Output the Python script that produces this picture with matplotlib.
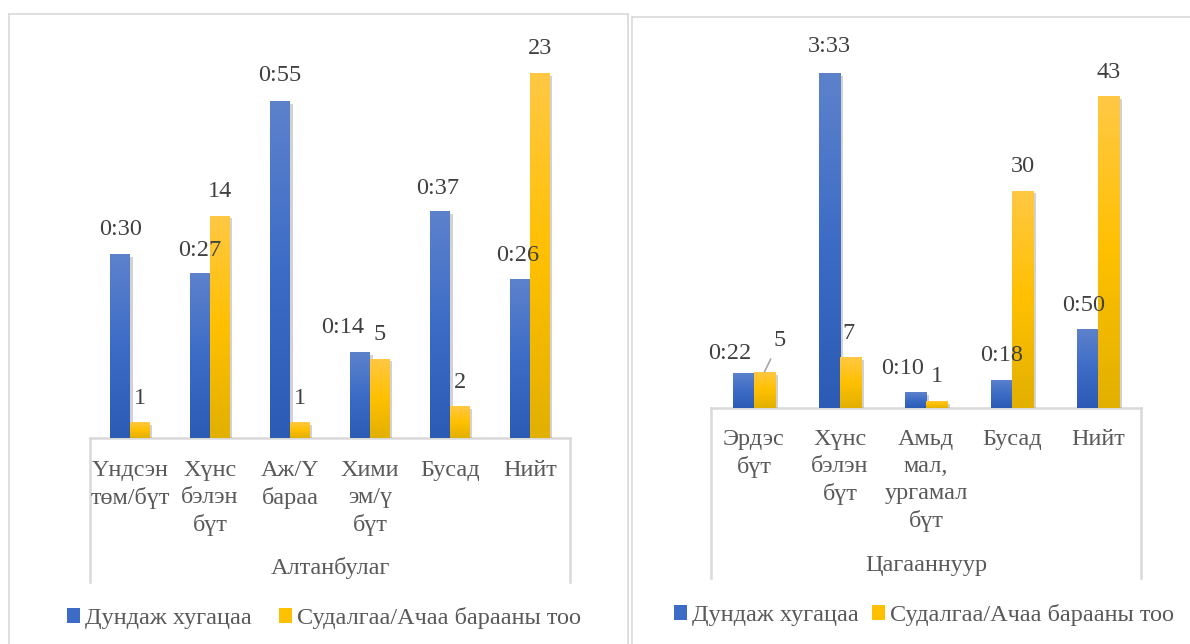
import numpy as np
import matplotlib
matplotlib.use("Agg")
import matplotlib.pyplot as plt
from matplotlib.colors import LinearSegmentedColormap
from matplotlib.patches import Patch
from matplotlib.lines import Line2D
import matplotlib.patheffects as pe

# ---- data ----
left_title = "Алтанбулаг"
left_cats = ["Үндсэн\nтөм/бүт", "Хүнс\nбэлэн\nбүт", "Аж/Ү\nбараа", "Хими\nэм/ү\nбүт", "Бусад", "Нийт"]
left_time = [30, 27, 55, 14, 37, 26]          # minutes
left_count = [1, 14, 1, 5, 2, 23]

right_title = "Цагааннуур"
right_cats = ["Эрдэс\nбүт", "Хүнс\nбэлэн\nбүт", "Амьд\nмал,\nургамал\nбүт", "Бусад", "Нийт"]
right_time = [22, 213, 10, 18, 50]            # minutes
right_count = [5, 7, 1, 30, 43]

series_names = ["Дундаж хугацаа", "Судалгаа/Ачаа барааны тоо"]

# ---- style ----
W, H = 1190, 644
plt.rcParams['font.family'] = ['Liberation Serif', 'DejaVu Serif']
FS = 17.5
LABEL_C = "#404040"
AXIS_C = "#595959"
GRID_C = "#d9d9d9"
blue_cmap = LinearSegmentedColormap.from_list("b", ["#2c5bb5", "#3d6cc6", "#5d82cc"])
yell_cmap = LinearSegmentedColormap.from_list("y", ["#e2b000", "#ffc000", "#ffc844"])


def fx(x):
    return x / W


def fy(y):
    return 1 - y / H


def fmt_time(m):
    return "%d:%02d" % (m // 60, m % 60)


def gradient_bars(ax, bars, cmap):
    grad = np.linspace(0, 1, 128).reshape(-1, 1)
    for b in bars:
        b.set_path_effects([pe.SimplePatchShadow(offset=(2, -2), shadow_rgbFace="#7f7f7f", alpha=0.35),
                            pe.Normal()])
        x0, y0 = b.get_xy()
        im = ax.imshow(grad, cmap=cmap, origin="lower", aspect="auto",
                       extent=[x0, x0 + b.get_width(), y0, y0 + b.get_height()],
                       zorder=b.get_zorder() + 0.1, interpolation="bilinear")
        im.set_clip_path(b)


def panel(box, cats, times, counts, tmax, cmax, title, t_off, c_off, lead_idx,
          box_bottom, cat_gap, title_y, legend_xy, colspace, border):
    # outer chart border
    bx0, by0, bx1 = border
    fig.add_artist(Line2D([fx(bx0), fx(bx0)], [fy(by0), 0], color=GRID_C, lw=1.2))
    fig.add_artist(Line2D([fx(bx0), fx(bx1)], [fy(by0), fy(by0)], color=GRID_C, lw=1.2))
    if bx1 < W - 5:
        fig.add_artist(Line2D([fx(bx1), fx(bx1)], [fy(by0), 0], color=GRID_C, lw=1.2))

    x0, y0, x1, y1 = box
    ax = fig.add_axes([fx(x0), fy(y1), (x1 - x0) / W, (y1 - y0) / H])
    ax2 = ax.twinx()
    n = len(cats)
    pos = np.arange(n)
    w = 0.245
    b1 = ax.bar(pos - w / 2, times, w, color="#4472c4", zorder=2)
    b2 = ax2.bar(pos + w / 2, counts, w, color="#ffc000", zorder=2)
    gradient_bars(ax, b1, blue_cmap)
    gradient_bars(ax2, b2, yell_cmap)
    for a, top in ((ax, tmax), (ax2, cmax)):
        a.set_xlim(-0.5, n - 0.5)
        a.set_ylim(0, top)
        a.axis("off")

    # data labels (all on the top axes so no bar covers them)
    for i in range(n):
        dx, dy = t_off[i]
        ax2.annotate(fmt_time(times[i]), (pos[i] - w / 2, times[i]), xycoords=ax.transData,
                     xytext=(dx, dy), textcoords="offset pixels", ha="center", va="center",
                     fontsize=FS, color=LABEL_C, zorder=5)
        dx, dy = c_off[i]
        arrow = None
        if i == lead_idx:
            arrow = dict(arrowstyle="-", color="#a6a6a6", lw=1.2, shrinkA=4, shrinkB=0)
        ax2.annotate(str(counts[i]), (pos[i] + w / 2, counts[i]), xytext=(dx, dy),
                     textcoords="offset pixels", ha="center", va="center",
                     fontsize=FS, color=LABEL_C, zorder=5, arrowprops=arrow)

    # category axis box
    hh = (box_bottom - y1) / (y1 - y0)
    for xs, ys in (([0, 1], [0, 0]), ([0, 0], [0, -hh]), ([1, 1], [0, -hh])):
        ax.plot(xs, ys, transform=ax.transAxes, color=GRID_C, lw=1.8, clip_on=False, zorder=1)
    for i, c in enumerate(cats):
        ax.annotate(c, (pos[i], 0), xycoords=ax.get_xaxis_transform(), xytext=(0, -cat_gap),
                    textcoords="offset pixels", ha="center", va="top", fontsize=FS,
                    color=AXIS_C, linespacing=1.37)
    fig.text(fx((x0 + x1) / 2), fy(title_y), title, ha="center", va="center",
             fontsize=FS, color=AXIS_C)

    handles = [Patch(facecolor="#3d6cc6", edgecolor="none"),
               Patch(facecolor="#ffc000", edgecolor="none")]
    fig.legend(handles, series_names, loc="center", bbox_to_anchor=(fx(legend_xy[0]), fy(legend_xy[1])),
               ncol=2, frameon=False, fontsize=FS, labelcolor=AXIS_C, handlelength=0.55,
               handleheight=0.55, handletextpad=0.2, columnspacing=colspace)
    return ax, ax2


fig = plt.figure(figsize=(W / 100, H / 100), dpi=100)

panel((90, 41, 570, 438), left_cats, left_time, left_count, 64.8, 25, left_title,
      t_off=[(0, 25), (0, 22), (0, 26), (-18, 25), (-3, 23), (-3, 23)],
      c_off=[(0, 24)] * 6, lead_idx=None,
      box_bottom=582, cat_gap=22, title_y=568, legend_xy=(324, 618), colspace=1.1,
      border=(9, 14, 628))

panel((711, 45.5, 1141, 408), right_cats, right_time, right_count, 230.4, 50, right_title,
      t_off=[(-14, 20), (0, 26), (-13, 24), (0, 24), (-4, 24)],
      c_off=[(15, 31), (-2, 24), (0, 24), (0, 24), (0, 24)], lead_idx=0,
      box_bottom=578, cat_gap=21, title_y=565, legend_xy=(924, 615), colspace=0.55,
      border=(632, 17, W))

fig.savefig("out.png", dpi=100)
